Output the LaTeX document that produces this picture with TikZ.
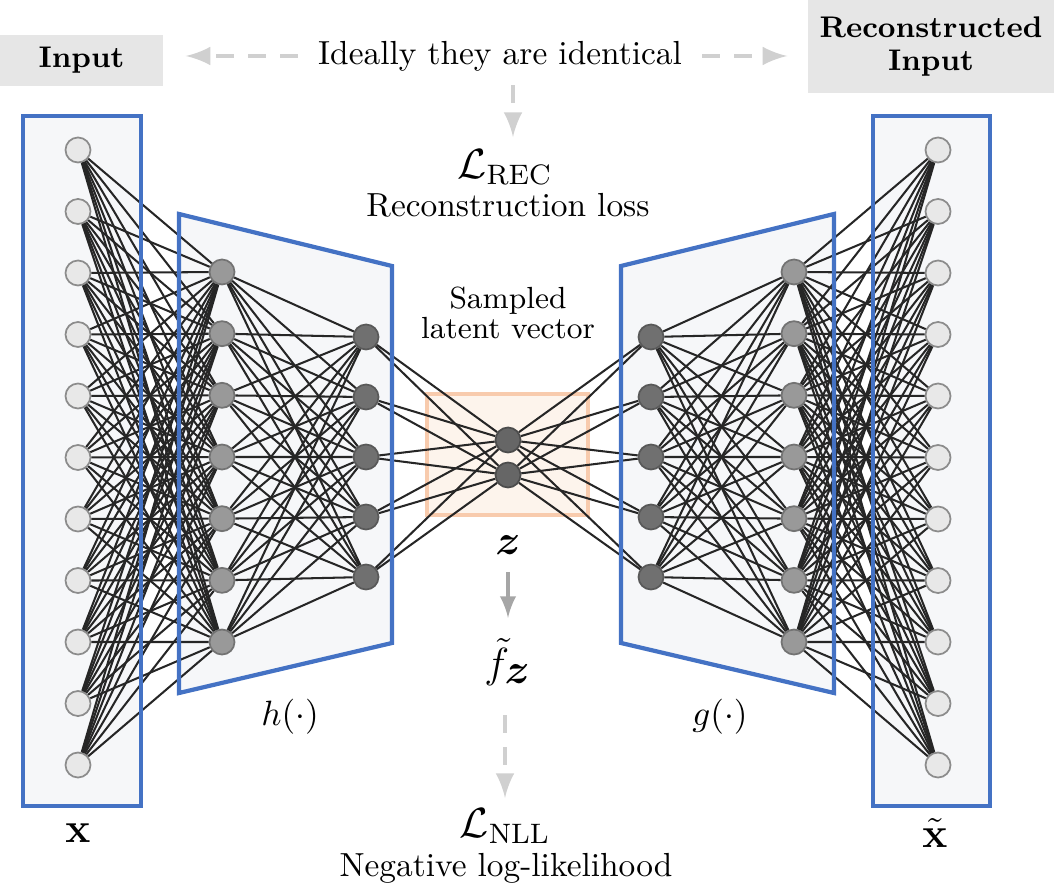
\documentclass[tikz,border=0pt]{standalone}
\usepackage{amssymb}
\usepackage{amsmath}
\usepackage{bm}
\usepackage{xcolor}
\tikzset{>=latex}
\definecolor{netblue}{HTML}{4472C4}
\definecolor{boxfill}{HTML}{F6F7F9}
\definecolor{tagfill}{HTML}{E6E6E6}
\definecolor{hintgray}{HTML}{D0D0D0}
\definecolor{flowgray}{HTML}{A6A6A6}
\definecolor{latentfill}{HTML}{FDF4EC}
\definecolor{latentline}{HTML}{F8CBAD}
\tikzset{
  neuron/.style={circle,minimum size=0.25cm,inner sep=0pt,line width=0.5pt},
  inneuron/.style={neuron,draw=black!45,fill=black!9},
  hidneuron/.style={neuron,draw=black!55,fill=black!40},
  deepneuron/.style={neuron,draw=black!65,fill=black!56},
  codeneuron/.style={neuron,draw=black!70,fill=black!60},
  link/.style={black!85,line width=0.58pt},
  frame/.style={netblue,line width=1.2pt},
  hint/.style={hintgray,line width=1.4pt,dash pattern=on 0.18cm off 0.14cm,->},
  tag/.style={fill=tagfill,font=\fontsize{8.5}{9.4}\bfseries\selectfont,align=center,inner sep=0pt},
  plain/.style={font=\fontsize{9.5}{11}\selectfont,align=center},
  mathlbl/.style={font=\fontsize{12}{14}\selectfont}
}

\begin{document}
\begin{tikzpicture}
  \useasboundingbox (0,0) rectangle (10.54,8.89);
  \fill[boxfill] (0.23,0.83) rectangle (1.41,7.73);
  \fill[boxfill] (1.79,6.75) -- (3.92,6.23) -- (3.92,2.46) -- (1.79,1.96) -- cycle;
  \fill[boxfill] (6.21,6.23) -- (8.34,6.75) -- (8.34,1.96) -- (6.21,2.46) -- cycle;
  \fill[boxfill] (8.73,0.83) rectangle (9.90,7.73);
  \draw[latentline,fill=latentfill,line width=1.1pt] (4.27,3.74) rectangle (5.88,4.95);

  \foreach \k in {1,...,11} {
    \node[inneuron] (i\k) at (0.78,{7.39-0.615*(\k-1)}) {};
    \node[inneuron] (o\k) at (9.38,{7.39-0.615*(\k-1)}) {};
  }
  \foreach \k in {1,...,7} {
    \node[hidneuron] (e\k) at (2.22,{6.17-0.6167*(\k-1)}) {};
    \node[hidneuron] (q\k) at (7.94,{6.17-0.6167*(\k-1)}) {};
  }
  \foreach \k in {1,...,5} {
    \node[deepneuron] (m\k) at (3.66,{5.52-0.6*(\k-1)}) {};
    \node[deepneuron] (d\k) at (6.51,{5.52-0.6*(\k-1)}) {};
  }
  \node[codeneuron] (z1) at (5.08,4.49) {};
  \node[codeneuron] (z2) at (5.08,4.14) {};

  \foreach \a in {1,...,11}
    \foreach \b in {1,...,7} {
      \draw[link] (i\a) -- (e\b);
      \draw[link] (q\b) -- (o\a);
    }
  \foreach \a in {1,...,7}
    \foreach \b in {1,...,5} {
      \draw[link] (e\a) -- (m\b);
      \draw[link] (d\b) -- (q\a);
    }
  \foreach \a in {1,...,5}
    \foreach \b in {1,2} {
      \draw[link] (m\a) -- (z\b);
      \draw[link] (z\b) -- (d\a);
    }

  \draw[frame] (0.23,0.83) rectangle (1.41,7.73);
  \draw[frame] (1.79,6.75) -- (3.92,6.23) -- (3.92,2.46) -- (1.79,1.96) -- cycle;
  \draw[frame] (6.21,6.23) -- (8.34,6.75) -- (8.34,1.96) -- (6.21,2.46) -- cycle;
  \draw[frame] (8.73,0.83) rectangle (9.90,7.73);

  \node[tag,minimum width=1.63cm,minimum height=0.51cm] (intag) at (0.815,8.285) {Input};
  \node[tag,minimum width=2.46cm,minimum height=0.93cm] (outtag) at (9.31,8.425) {Reconstructed\\Input};
  \node[plain] (ideal) at (5.0,8.33) {Ideally they are identical};
  \draw[hint,shorten <=0.08cm,shorten >=0.22cm] (ideal.west) -- (ideal.west -| intag.east);
  \draw[hint,shorten <=0.08cm,shorten >=0.2cm] (ideal.east) -- (ideal.east -| outtag.west);

  \node[mathlbl] (rec) at (5.05,7.22) {$\mathcal{L}_{\mathrm{REC}}$};
  \node[plain] (recloss) at (5.08,6.84) {Reconstruction loss};
  \draw[hint,shorten <=0.02cm] ([xshift=0.13cm]ideal.south) -- ([xshift=0.13cm]ideal.south |- rec.north);

  \node[font=\fontsize{8.7}{8.6}\selectfont,align=center] (sampled) at (5.08,5.76) {Sampled\\latent vector};

  \node[mathlbl] (zlbl) at (5.08,3.44) {$\boldsymbol{z}$};
  \node[mathlbl] (fz) at (5.08,2.27) {$\tilde{f}_{\textstyle\boldsymbol{z}}$};
  \draw[->,flowgray,line width=1.1pt,shorten <=0.05cm,shorten >=0.08cm] (zlbl) -- (fz);
  \node[mathlbl] (nll) at (5.05,0.63) {$\mathcal{L}_{\mathrm{NLL}}$};
  \node[plain] (nlltext) at (5.06,0.21) {Negative log-likelihood};
  \draw[hint,shorten <=0.17cm,shorten >=-0.02cm] (fz.south -| nll) -- (nll);

  \node[font=\fontsize{10}{12}\selectfont] (hlbl) at (2.90,1.72) {$h(\cdot)$};
  \node[font=\fontsize{10}{12}\selectfont] (glbl) at (7.20,1.72) {$g(\cdot)$};
  \node[mathlbl] (xlbl) at (0.78,0.56) {$\mathbf{x}$};
  \node[mathlbl] (xhat) at (9.35,0.56) {$\tilde{\mathbf{x}}$};
\end{tikzpicture}
\end{document}
